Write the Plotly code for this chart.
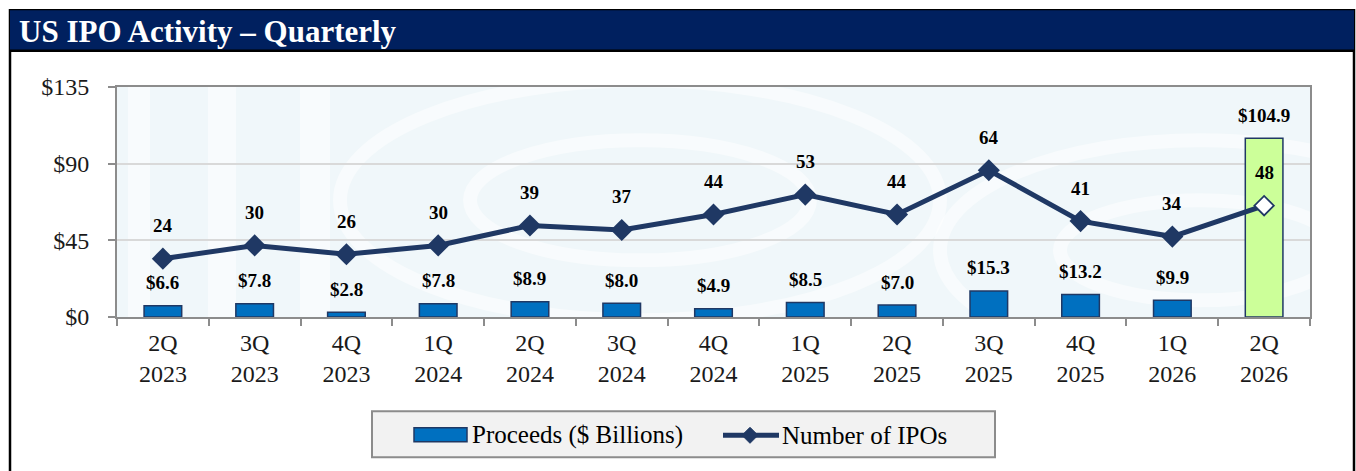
import plotly.graph_objects as go

# ---- data ----
quarters = ["2Q<br>2023", "3Q<br>2023", "4Q<br>2023", "1Q<br>2024", "2Q<br>2024", "3Q<br>2024",
            "4Q<br>2024", "1Q<br>2025", "2Q<br>2025", "3Q<br>2025", "4Q<br>2025", "1Q<br>2026",
            "2Q<br>2026"]
proceeds = [6.6, 7.8, 2.8, 7.8, 8.9, 8.0, 4.9, 8.5, 7.0, 15.3, 13.2, 9.9, 104.9]
num_ipos = [24, 30, 26, 30, 39, 37, 44, 53, 44, 64, 41, 34, 48]
y_ticks = [0, 45, 90, 135]
y_tick_labels = ["$0", "$45", "$90", "$135"]
title_text = "US IPO Activity \u2013 Quarterly"
legend_names = ["Proceeds ($ Billions)", "Number of IPOs"]

# ---- styling ----
W, H = 1356, 471
L, R, T, B = 117, 1310, 86.7, 316.7
NAVY = "#1F3864"
BLUE = "#0070C0"
GREEN = "#CCFF99"
FONT = "Liberation Serif"


def xp(px):
    return (px - L) / (R - L)


def yp(py):
    return (B - py) / (B - T)


n = len(quarters)
bar_colors = [BLUE] * (n - 1) + [GREEN]
marker_fill = [NAVY] * (n - 1) + ["white"]
marker_size = [17] * (n - 1) + [15]
marker_line_w = [0] * (n - 1) + [1.8]

fig = go.Figure()
fig.add_trace(go.Bar(
    x=quarters, y=proceeds, name=legend_names[0], width=0.41,
    marker=dict(color=bar_colors, line=dict(color=NAVY, width=1.5)),
    showlegend=False, yaxis="y", hoverinfo="skip"))
fig.add_trace(go.Scatter(
    x=quarters, y=num_ipos, name=legend_names[1], yaxis="y2", mode="lines+markers",
    line=dict(color=NAVY, width=5),
    marker=dict(symbol="diamond", size=marker_size, color=marker_fill, opacity=1,
                line=dict(color=NAVY, width=marker_line_w)),
    showlegend=False, hoverinfo="skip"))

annotations = []
for q, v in zip(quarters, proceeds):
    annotations.append(dict(x=q, y=v, xref="x", yref="y", text=f"<b>${v:.1f}</b>",
                            showarrow=False, yshift=23, yanchor="middle",
                            font=dict(family=FONT, size=19, color="black")))
for q, v in zip(quarters, num_ipos):
    annotations.append(dict(x=q, y=v, xref="x", yref="y2", text=f"<b>{v}</b>",
                            showarrow=False, yshift=33, yanchor="middle",
                            font=dict(family=FONT, size=19, color="black")))

# title
annotations.append(dict(x=xp(17), y=yp(31), xref="paper", yref="paper", xanchor="left",
                        yanchor="middle", showarrow=False, text=f"<b>{title_text}</b>",
                        font=dict(family=FONT, size=31, color="white")))
# legend texts
annotations.append(dict(x=xp(470), y=yp(435), xref="paper", yref="paper", xanchor="left",
                        yanchor="middle", showarrow=False, text=legend_names[0],
                        font=dict(family=FONT, size=25, color="black")))
annotations.append(dict(x=xp(780), y=yp(435), xref="paper", yref="paper", xanchor="left",
                        yanchor="middle", showarrow=False, text=legend_names[1],
                        font=dict(family=FONT, size=25, color="black")))

shapes = [
    # outer frame
    dict(type="rect", xref="paper", yref="paper", x0=xp(10), x1=xp(1354), y0=yp(10), y1=yp(490),
         line=dict(color="black", width=2.5), fillcolor="rgba(0,0,0,0)", layer="above"),
    # title bar
    dict(type="rect", xref="paper", yref="paper", x0=xp(10), x1=xp(1354), y0=yp(10), y1=yp(50),
         line=dict(width=0), fillcolor="#00205F", layer="above"),
    dict(type="line", xref="paper", yref="paper", x0=xp(10), x1=xp(1354), y0=yp(50.5), y1=yp(50.5),
         line=dict(color="black", width=2.5), layer="above"),
    # legend box
    dict(type="rect", xref="paper", yref="paper", x0=xp(372), x1=xp(995), y0=yp(411), y1=yp(457),
         line=dict(color="#8c8c8c", width=2), fillcolor="#F2F2F2"),
    dict(type="rect", xref="paper", yref="paper", x0=xp(414), x1=xp(467), y0=yp(427.5), y1=yp(441.5),
         line=dict(color=NAVY, width=1.5), fillcolor=BLUE),
    dict(type="line", xref="paper", yref="paper", x0=xp(723), x1=xp(779), y0=yp(435), y1=yp(435),
         line=dict(color=NAVY, width=5)),
    dict(type="path", xref="paper", yref="paper",
         path=f"M {xp(750)} {yp(427)} L {xp(758)} {yp(435)} L {xp(750)} {yp(443)} L {xp(742)} {yp(435)} Z",
         line=dict(color=NAVY, width=1), fillcolor=NAVY),
]

# faint watermark-like shapes in the plot background
wm = "rgba(255,255,255,0.5)"
for x0, x1 in [(128, 150), (208, 236), (300, 330)]:
    shapes.append(dict(type="rect", xref="paper", yref="paper", x0=xp(x0), x1=xp(x1),
                       y0=0, y1=1, line=dict(width=0), fillcolor=wm, layer="below"))
for cx, cy, rx, ry in [(640, 200, 170, 60), (640, 200, 300, 120), (1200, 250, 140, 50),
                       (1200, 250, 260, 110)]:
    shapes.append(dict(type="circle", xref="paper", yref="paper", x0=xp(cx - rx), x1=xp(cx + rx),
                       y0=yp(cy + ry), y1=yp(cy - ry), line=dict(color=wm, width=14),
                       fillcolor="rgba(0,0,0,0)", layer="below"))

fig.update_layout(
    width=W, height=H,
    margin=dict(l=L, r=W - R, t=T, b=H - B, pad=0),
    paper_bgcolor="white", plot_bgcolor="#F0F7FA",
    font=dict(family=FONT, color="black"),
    bargap=0.59,
    xaxis=dict(type="category", range=[-0.5, n - 0.5], showline=True, linecolor="#8c8c8c",
               linewidth=2, mirror=True,
               ticks="outside", tickson="boundaries", ticklen=7, tickcolor="#8c8c8c", tickwidth=2,
               tickfont=dict(family=FONT, size=24, color="#1a1a1a"), showgrid=False,
               ticklabelstandoff=3),
    yaxis=dict(range=[0, 135], tickvals=y_ticks, ticktext=y_tick_labels, showline=True,
               linecolor="#8c8c8c", linewidth=2, mirror=True, ticks="outside", ticklen=7,
               tickcolor="#8c8c8c", tickwidth=2, gridcolor="#D9D9D9", gridwidth=2,
               zeroline=False, tickfont=dict(family=FONT, size=24, color="#1a1a1a"),
               ticklabelstandoff=14),
    yaxis2=dict(range=[-2.4, 101.7], overlaying="y", side="right", visible=False,
                showgrid=False, zeroline=False),
    annotations=annotations,
    shapes=shapes,
    showlegend=False,
)

fig.write_html("out.html")
